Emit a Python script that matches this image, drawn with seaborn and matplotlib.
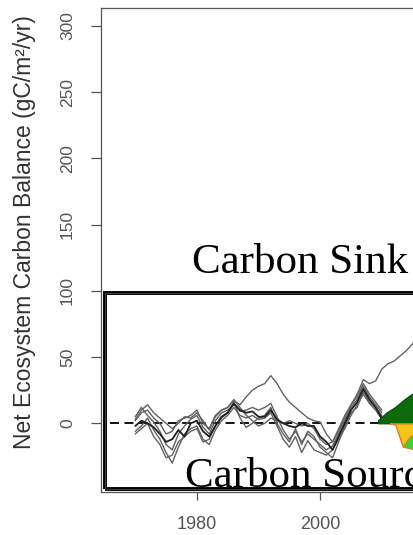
import numpy as np
import pandas as pd
import matplotlib
matplotlib.use("Agg")
import matplotlib.pyplot as plt
from matplotlib.patches import Rectangle
import seaborn as sns

# ---- data -------------------------------------------------------------
hist_years = list(range(1970, 2011))

member_u = [3, 10, 14, 8, 4, 0, -4, 0, 5, 4, 8, 2, -5, 5, 10, 12, 17, 14, 20, 25,
            28, 30, 36, 30, 22, 16, 12, 8, 4, 2, 1, -8, -14, -4, 6, 14, 22, 33, 30, 32, 41]
member_u_ext_years = [2011, 2012, 2013, 2014, 2015, 2016]
member_u_ext = [45, 47, 51, 55, 60, 68]

member_c = [5, 12, 6, 1, -6, -16, -20, -8, -2, 3, 6, -3, -8, 2, 8, 10, 14, 9, 10, 12,
            10, 12, 15, 5, -5, -12, -6, -14, -8, -12, -16, -20, -17, -8, 2, 12, 18, 28, 20, 14, 8]
member_d = [-6, -2, 4, -5, -12, -22, -30, -18, -8, -4, -2, -12, -16, -5, 2, 6, 12, 6, 4, 6,
            3, 4, 8, -2, -12, -18, -10, -22, -13, -20, -22, -24, -20, -12, -4, 6, 14, 22, 15, 10, 3]
member_e = [-8, -4, 0, -10, -16, -26, -24, -14, -10, -6, -4, -14, -12, -2, 4, 8, 16, 4, -3, 0,
            4, 6, 12, 0, -8, -14, -4, -16, -6, -10, -18, -22, -26, -14, -2, 8, 12, 24, 16, 12, 6]
member_f = [2, 8, 10, 4, 0, -8, -6, 2, 4, 6, 10, 0, -4, 6, 10, 12, 18, 12, 6, 2,
            -2, 0, 4, 2, 0, 2, 0, -2, 0, -4, -12, -16, -14, -6, 4, 14, 20, 30, 22, 16, 10]
member_mean = [-2, 2, 0, -3, -8, -14, -12, -5, -10, 0, 2, -6, -10, -2, 5, 8, 15, 10, 8, 9,
               5, 5, 10, 3, 0, -2, -3, 0, -2, -2, -10, -14, -20, -10, 0, 10, 16, 26, 18, 12, 4]

# projected ranges
sink_years = [2009.4, 2010.7, 2012.2, 2013.5, 2014.6, 2016.0]
sink_upper = [2.5, 8, 12.5, 17.6, 21.4, 25]
sink_lower = [0, 0, 0, 0, 0, 0]

source_years = [2011.3, 2012.2, 2013.4, 2014.6, 2016.0]
source_upper = [0, 0, 0, 0, 0]
source_lower = [0, -1, -17.6, -10, -6]

low_years = [2013.4, 2014.6, 2016.0]
low_upper = [-17.6, -10, -8]
low_lower = [-17.6, -19, -20]

y_ticks = [0, 50, 100, 150, 200, 250, 300]
x_ticks = [1980, 2000]
y_label = "Net Ecosystem Carbon Balance (gC/m\u00b2/yr)"

# ---- figure -------------------------------------------------------------
sns.set_theme(style="white")
plt.rcParams["font.family"] = ["Liberation Sans", "DejaVu Sans"]

W, H = 413, 535
fig = plt.figure(figsize=(W / 100, H / 100), dpi=100)
ax_w_px = 400
ax = fig.add_axes([100.7 / W, 43 / H, ax_w_px / W, 484 / H])

px_per_year = 6.165
x0 = 1964.4
ax.set_xlim(x0, x0 + ax_w_px / px_per_year)
ax.set_ylim(-51.8, -51.8 + 484 / 1.3253)

members = {"u": member_u, "c": member_c, "d": member_d, "e": member_e, "f": member_f}
rows = []
for name, vals in members.items():
    for yr, v in zip(hist_years, vals):
        rows.append((name, yr, v))
for yr, v in zip(member_u_ext_years, member_u_ext):
    rows.append(("u", yr, v))
df = pd.DataFrame(rows, columns=["member", "year", "necb"])

sns.lineplot(data=df, x="year", y="necb", units="member", estimator=None,
             color="#626262", lw=1.0, ax=ax, zorder=3)
sns.lineplot(x=hist_years, y=member_mean, color="#202020", lw=1.3, ax=ax, zorder=4)

# zero reference
ax.plot([1965.9, 2012.5], [0, 0], ls=(0, (5, 3)), color="black", lw=1.3, zorder=2)

# projected ranges
ax.fill_between(sink_years, sink_lower, sink_upper, color="#0b6b0b",
                edgecolor="#064806", lw=0.8, zorder=5)
ax.fill_between(source_years, source_lower, source_upper, color="#f5c518",
                edgecolor="#d9822b", lw=1.0, zorder=5)
ax.fill_between(low_years, low_lower, low_upper, color="#3ed12f",
                edgecolor="#d9822b", lw=0.8, zorder=5)

# sink / source box
ax.add_patch(Rectangle((1965.1, -49.5), 80, 147.6, fill=False,
                       edgecolor="black", lw=2.8, zorder=6))
ax.add_patch(Rectangle((1965.1, -49.5), 80, 147.6, fill=False,
                       edgecolor="#4a4a4a", lw=0.6, zorder=7))

serif = ["Liberation Serif", "DejaVu Serif"]
ax.text(1979.2, 113.5, "Carbon Sink", fontsize=31, family=serif,
        va="baseline", ha="left", color="black", zorder=8)
ax.text(1978.1, -47.8, "Carbon Source", fontsize=31, family=serif,
        va="baseline", ha="left", color="black", zorder=8, clip_on=True)

# axes styling
for side in ["left", "bottom", "top", "right"]:
    ax.spines[side].set_color("#555555")
    ax.spines[side].set_linewidth(0.9)
ax.set_yticks(y_ticks)
ax.set_yticklabels([str(t) for t in y_ticks], rotation=90, va="center",
                   fontsize=12.5, color="#555555")
ax.set_xticks(x_ticks)
ax.set_xticklabels([str(t) for t in x_ticks], fontsize=13, color="#555555")
ax.tick_params(axis="y", direction="out", length=7.5, width=0.9, color="#555555", pad=11, left=True)
ax.tick_params(axis="x", direction="out", length=5.5, width=0.9, color="#555555", pad=12, bottom=True)
ax.set_xlabel("")
ax.set_ylabel("")

fig.text(25 / W, 1 - 232 / H, y_label, rotation=90, ha="center", va="center",
         fontsize=16.5, color="#333333")

fig.savefig("out.png", dpi=100)
